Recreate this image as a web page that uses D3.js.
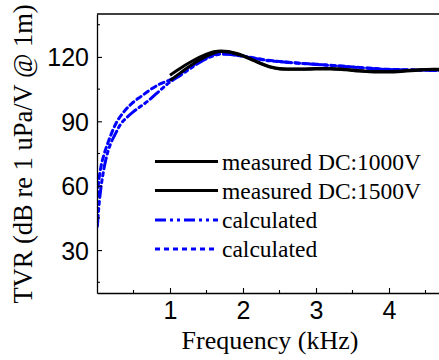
<!DOCTYPE html>
<html>
<head>
<meta charset="utf-8">
<script src="https://cdn.jsdelivr.net/npm/d3@7"></script>
<style>
  html, body { margin: 0; padding: 0; background: #fff; }
  svg { display: block; }
</style>
</head>
<body>
<div id="chart"></div>
<script>
// values, [frequency kHz, TVR dB]
const measured1000 = [
  [1.0, 111.5], [1.1, 113.8], [1.2, 116.0], [1.3, 118.0], [1.4, 119.8], [1.5, 121.3],
  [1.6, 122.4], [1.7, 122.8], [1.8, 122.5], [1.9, 121.7], [2.0, 120.6], [2.1, 119.2],
  [2.2, 117.7], [2.3, 116.3], [2.4, 115.2], [2.5, 114.6], [2.6, 114.4], [2.8, 114.4],
  [3.0, 114.6], [3.2, 114.6], [3.4, 114.2], [3.6, 113.6], [3.8, 113.2], [4.0, 113.2],
  [4.2, 113.5], [4.4, 114.0], [4.6, 114.3], [4.8, 114.2]
];
const measured1500 = [
  [1.0, 109.0], [1.1, 111.5], [1.2, 114.0], [1.3, 116.3], [1.4, 118.5], [1.5, 120.4],
  [1.6, 121.8], [1.7, 122.5], [1.8, 122.3], [1.9, 121.5], [2.0, 120.4], [2.1, 119.0],
  [2.2, 117.5], [2.3, 116.1], [2.4, 115.0], [2.5, 114.4], [2.6, 114.2], [2.8, 114.2],
  [3.0, 114.4], [3.2, 114.4], [3.4, 114.0], [3.6, 113.4], [3.8, 113.0], [4.0, 113.0],
  [4.2, 113.3], [4.4, 113.8], [4.6, 114.1], [4.8, 114.0]
];
const calcDashDot = [
  [0.005, 41], [0.02, 48], [0.05, 58], [0.08, 65], [0.12, 72], [0.18, 79], [0.25, 84],
  [0.32, 88.5], [0.4, 91.5], [0.5, 94.5], [0.6, 97], [0.7, 99.5], [0.8, 102.5], [0.9, 105.5],
  [1.0, 108.3], [1.1, 110.5], [1.2, 112.8], [1.3, 115.1], [1.4, 117.3], [1.5, 119.2],
  [1.6, 120.6], [1.7, 121.3], [1.8, 121.2], [1.9, 120.8], [2.0, 120.3], [2.1, 119.7],
  [2.2, 119.1], [2.3, 118.5], [2.5, 117.8], [2.7, 117.2], [3.0, 116.5], [3.2, 116.0],
  [3.4, 115.5], [3.6, 115.0], [3.8, 114.5], [4.0, 114.1], [4.3, 113.9], [4.6, 113.7],
  [4.8, 113.6]
];
const calcDash = [
  [0.005, 55], [0.02, 61], [0.05, 68], [0.1, 75], [0.15, 80], [0.2, 84.5], [0.26, 89],
  [0.37, 94.5], [0.5, 99], [0.6, 101.5], [0.7, 104], [0.85, 107.2], [1.0, 109.3],
  [1.1, 111.2], [1.2, 113.5], [1.3, 115.8], [1.4, 117.9], [1.5, 119.7], [1.6, 121.0],
  [1.7, 121.6], [1.8, 121.4], [1.9, 120.9], [2.0, 120.4], [2.1, 119.8], [2.2, 119.2],
  [2.3, 118.6], [2.5, 117.9], [2.7, 117.3], [3.0, 116.6], [3.2, 116.1], [3.4, 115.6],
  [3.6, 115.1], [3.8, 114.6], [4.0, 114.2], [4.3, 114.0], [4.6, 113.8], [4.8, 113.7]
];

const seriesNames = ["measured DC:1000V", "measured DC:1500V", "calculated", "calculated"];
const xTicks = [1, 2, 3, 4];
const yTicks = [30, 60, 90, 120];

const W = 439, H = 360;
const margin = { top: 14, left: 97, bottom: 67 };

const svg = d3.select("#chart").append("svg")
  .attr("width", W)
  .attr("height", H);

// x runs past the right edge of the picture, as in the reference
const x = d3.scaleLinear().domain([0, 5]).range([margin.left, margin.left + 5 * 73]);
const y = d3.scaleLinear().domain([10, 140]).range([H - margin.bottom, margin.top]);

const x0 = x.range()[0], x1 = x.range()[1];
const y0 = y.range()[0], y1 = y.range()[1];

svg.append("defs").append("clipPath").attr("id", "clip")
  .append("rect").attr("x", x0).attr("y", y1).attr("width", x1 - x0).attr("height", y0 - y1);

const styles = [
  { data: measured1000, color: "#000", dash: null, width: 3 },
  { data: measured1500, color: "#000", dash: null, width: 3 },
  { data: calcDashDot, color: "#0000ff", dash: "11,4,3,4,3,4", width: 3 },
  { data: calcDash, color: "#0000ff", dash: "5,4", width: 3 }
];

const line = d3.line()
  .x(d => x(d[0]))
  .y(d => y(d[1]))
  .curve(d3.curveMonotoneX);

const plot = svg.append("g").attr("clip-path", "url(#clip)");

// blue first so black sits on top like the reference
[2, 3, 0, 1].forEach(i => {
  const s = styles[i];
  plot.append("path")
    .datum(s.data)
    .attr("d", line)
    .attr("fill", "none")
    .attr("stroke", s.color)
    .attr("stroke-width", s.width)
    .attr("stroke-dasharray", s.dash)
    .attr("stroke-linecap", s.dash ? "round" : "butt");
});

// axes with inward ticks
const axisColor = "#000";
const xAxis = d3.axisBottom(x).tickValues(xTicks).tickSize(-5).tickPadding(8)
  .tickFormat(d3.format("d")).tickSizeOuter(0);
const yAxis = d3.axisLeft(y).tickValues(yTicks).tickSize(-5).tickPadding(8)
  .tickSizeOuter(0);

const gx = svg.append("g").attr("transform", `translate(0,${y0})`).call(xAxis);
const gy = svg.append("g").attr("transform", `translate(${x0},0)`).call(yAxis);

[gx, gy].forEach(g => {
  g.select(".domain").attr("stroke", axisColor).attr("stroke-width", 1.3);
  g.selectAll(".tick line").attr("stroke", axisColor).attr("stroke-width", 1.1);
  g.selectAll(".tick text")
    .attr("fill", "#000")
    .style("font-family", "'Liberation Sans', Arial, sans-serif")
    .style("font-size", "25px");
});
gy.selectAll(".tick text").attr("dy", "0.36em");

// minor ticks
const xMinor = d3.range(0.5, 5, 1);
const yMinor = d3.range(15, 140, 30);
svg.append("g").selectAll("line").data(xMinor).join("line")
  .attr("x1", d => x(d)).attr("x2", d => x(d))
  .attr("y1", y0).attr("y2", y0 - 3)
  .attr("stroke", axisColor).attr("stroke-width", 1.1);
svg.append("g").selectAll("line").data(yMinor).join("line")
  .attr("x1", x0).attr("x2", x0 + 3)
  .attr("y1", d => y(d)).attr("y2", d => y(d))
  .attr("stroke", axisColor).attr("stroke-width", 1.1);

// top frame line
svg.append("line")
  .attr("x1", x0).attr("x2", x1).attr("y1", y1).attr("y2", y1)
  .attr("stroke", axisColor).attr("stroke-width", 1.3);

// axis titles
const serif = "'Liberation Serif', 'Times New Roman', serif";
svg.append("text")
  .attr("x", 270).attr("y", 349)
  .attr("text-anchor", "middle")
  .style("font-family", serif).style("font-size", "26px")
  .text("Frequency (kHz)");

svg.append("text")
  .attr("transform", "rotate(-90)")
  .attr("x", -154).attr("y", 32)
  .attr("text-anchor", "middle")
  .style("font-family", serif).style("font-size", "26.5px")
  .text("TVR (dB re 1 uPa/V @ 1m)");

// legend
const legendRows = [161.5, 190.5, 220, 249];
const legend = svg.append("g");
styles.forEach((s, i) => {
  legend.append("line")
    .attr("x1", 155).attr("x2", 218)
    .attr("y1", legendRows[i]).attr("y2", legendRows[i])
    .attr("stroke", s.color).attr("stroke-width", s.width)
    .attr("stroke-dasharray", s.dash);
  legend.append("text")
    .attr("x", 222).attr("y", legendRows[i])
    .attr("dy", "0.35em")
    .style("font-family", serif).style("font-size", "23.5px")
    .text(seriesNames[i]);
});
</script>
</body>
</html>
